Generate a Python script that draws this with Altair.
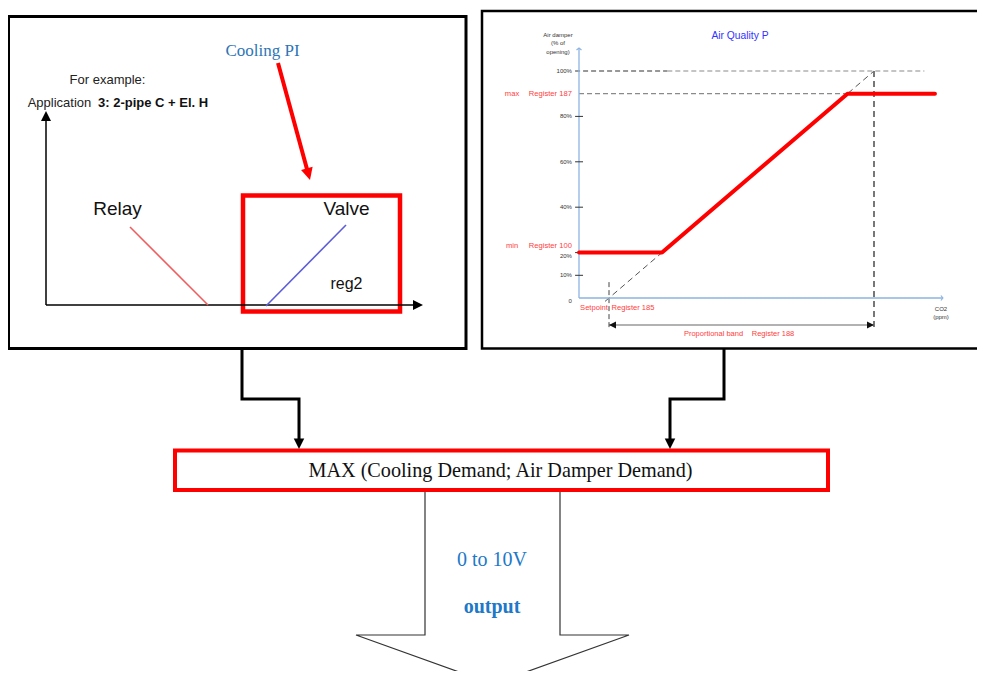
import altair as alt
import pandas as pd

# ------------------------------------------------------------------ data
# Right panel "Air Quality P": air damper opening (%) versus CO2, where CO2 is
# expressed in % of the proportional band (0 = setpoint, 100 = end of band).
damper_ticks = [0, 10, 20, 40, 60, 80, 100]
damper_tick_labels = ["0", "10%", "20%", "40%", "60%", "80%", "100%"]
tick_label_shift_px = [3, 0, 3.5, 0, 0, 0, 0]   # labels nudged down as in the original
tick_marks = [10, 20, 40, 60, 80]
min_pct = 20          # Register 100
max_pct = 90          # Register 187
setpoint = 0          # Register 185
band_end = 100        # setpoint + proportional band (Register 188)
curve_band = [-11.3, min_pct, max_pct, 123]
curve_damper = [min_pct, min_pct, max_pct, max_pct]

# ------------------------------------------------------------------ layout
W, H = 969, 663            # drawing area (page minus 8px margins)
OX, OY = 8, 8              # page offset of the drawing area
SET_X, BAND_PX = 609, 2.65  # page x of setpoint, px per % of band
ZERO_Y, PCT_PX = 298, 2.27  # page y of 0 % opening, px per % opening
AX_B = (579 - SET_X) / BAND_PX
B_DOM = [(OX - SET_X) / BAND_PX, (OX + W - SET_X) / BAND_PX]
P_DOM = [(ZERO_Y - (OY + H)) / PCT_PX, (ZERO_Y - OY) / PCT_PX]

SANS = "Liberation Sans"
SERIF = "Liberation Serif"
TRI = "M0,0L-0.5,-1L0.5,-1Z"   # arrow head, tip at origin, pointing down
CHEV = "M-1,0.8L0,0L1,0.8"


def dx(f="x"):
    return alt.X(f"{f}:Q", scale=alt.Scale(domain=[OX, OX + W], nice=False, zero=False), axis=None)


def dy(f="y"):
    return alt.Y(f"{f}:Q", scale=alt.Scale(domain=[OY, OY + H], reverse=True, nice=False, zero=False), axis=None)


def ix(f="b"):
    return alt.X(f"{f}:Q", scale=alt.Scale(domain=B_DOM, nice=False, zero=False), axis=None)


def iy(f="p"):
    return alt.Y(f"{f}:Q", scale=alt.Scale(domain=P_DOM, nice=False, zero=False), axis=None)


# ------------------------------------------------------------------ diagram layer (page pixels)
boxes = pd.DataFrame([
    dict(x=8.5, x2=466, y=16.5, y2=348.5, stroke="#000000", sw=3, fill="transparent"),
    dict(x=482, x2=1010, y=11, y2=348.5, stroke="#000000", sw=2.5, fill="transparent"),
    dict(x=243, x2=400, y=195.5, y2=311.5, stroke="#ff0000", sw=4.5, fill="transparent"),
    dict(x=175, x2=828, y=450.5, y2=490, stroke="#ff0000", sw=4, fill="#ffffff"),
])
box_layer = alt.Chart(boxes).mark_rect().encode(
    x=dx(), x2="x2:Q", y=dy(), y2="y2:Q",
    stroke=alt.Stroke("stroke:N", scale=None),
    strokeWidth=alt.StrokeWidth("sw:Q", scale=None),
    fill=alt.Fill("fill:N", scale=None),
)

paths = [
    ("lax_y", [(46, 305), (46, 120)], "#000000", 1.5),
    ("lax_x", [(46, 305), (414, 305)], "#000000", 1.5),
    ("relay", [(130, 227), (208, 305)], "#f25c5c", 1.6),
    ("valve", [(266, 306), (346, 225)], "#5d5dd8", 1.6),
    ("cool", [(278, 63), (307.5, 171)], "#ff0000", 4),
    ("conL", [(242, 349), (242, 399), (299, 399), (299, 441)], "#000000", 3),
    ("conR", [(724, 349), (724, 399), (670, 399), (670, 441)], "#000000", 3),
    ("big", [(425, 492), (425, 635), (356, 635), (492.5, 684), (629, 635), (560, 635), (560, 492)], "#333333", 1.2),
]
line_rows = []
for pid, pts, col, sw in paths:
    for i, (x, y) in enumerate(pts):
        line_rows.append(dict(id=pid, o=i, x=x, y=y, c=col, sw=sw))
line_layer = alt.Chart(pd.DataFrame(line_rows)).mark_line(strokeJoin="miter").encode(
    x=dx(), y=dy(), detail="id:N", order="o:Q",
    color=alt.Color("c:N", scale=None),
    strokeWidth=alt.StrokeWidth("sw:Q", scale=None),
)

heads = pd.DataFrame([
    dict(x=46, y=111, a=180, s=400, c="#000000"),
    dict(x=423, y=305, a=270, s=400, c="#000000"),
    dict(x=310, y=180, a=344.7, s=576, c="#ff0000"),
    dict(x=299, y=449, a=0, s=441, c="#000000"),
    dict(x=670, y=449, a=0, s=441, c="#000000"),
])
head_layer = alt.Chart(heads).mark_point(shape=TRI, filled=True, opacity=1, strokeWidth=0).encode(
    x=dx(), y=dy(),
    angle=alt.Angle("a:Q", scale=None),
    size=alt.Size("s:Q", scale=None),
    color=alt.Color("c:N", scale=None),
)

sans_texts = pd.DataFrame([
    dict(t="For example:", x=107.5, y=80, s=13, c="#222222"),
    dict(t="Application", x=59.5, y=103, s=13, c="#222222"),
    dict(t="Relay", x=117.5, y=209, s=19, c="#111111"),
    dict(t="Valve", x=346.5, y=209, s=19, c="#111111"),
    dict(t="reg2", x=346.5, y=284, s=16, c="#111111"),
    dict(t="Air Quality P", x=740, y=36, s=10.3, c="#3333ff"),
    dict(t="Air damper", x=558, y=35, s=6, c="#333333"),
    dict(t="(% of", x=558, y=43, s=6, c="#333333"),
    dict(t="opening)", x=558, y=52, s=6, c="#333333"),
    dict(t="Setpoint", x=594, y=308, s=7.6, c="#ff4040"),
    dict(t="Register 185", x=633, y=308, s=7.6, c="#ff4040"),
    dict(t="Proportional band", x=713.5, y=334, s=7.5, c="#ff4040"),
    dict(t="Register 188", x=773, y=334, s=7.5, c="#ff4040"),
    dict(t="CO2", x=941, y=309, s=6, c="#333333"),
    dict(t="(ppm)", x=941, y=317, s=6, c="#333333"),
])
bold_sans = pd.DataFrame([dict(t="3: 2-pipe C + El. H", x=98, y=103, s=13, c="#111111")])
serif_texts = pd.DataFrame([
    dict(t="Cooling PI", x=262.5, y=51, s=17, c="#2e75b6"),
    dict(t="MAX (Cooling Demand; Air Damper Demand)", x=500.5, y=471, s=20.2, c="#111111"),
    dict(t="0 to 10V", x=492, y=560, s=20, c="#2078c8"),
])
bold_serif = pd.DataFrame([dict(t="output", x=492, y=607, s=20, c="#2078c8")])


def text_layer(df, font, weight="normal", align="center"):
    return alt.Chart(df).mark_text(font=font, fontWeight=weight, align=align, baseline="middle").encode(
        x=dx(), y=dy(), text="t:N",
        size=alt.Size("s:Q", scale=None),
        color=alt.Color("c:N", scale=None),
    )


diagram = alt.layer(
    box_layer, line_layer, head_layer,
    text_layer(sans_texts, SANS),
    text_layer(bold_sans, SANS, "bold", "left"),
    text_layer(serif_texts, SERIF),
    text_layer(bold_serif, SERIF, "bold"),
)

# ------------------------------------------------------------------ Air Quality P layer (band %, damper %)
solid = pd.DataFrame(
    [dict(b=AX_B, b2=AX_B, p=0, p2=(ZERO_Y - 48) / PCT_PX, c="#8db3e2", sw=1.3),
     dict(b=AX_B, b2=126, p=0, p2=0, c="#8db3e2", sw=1.3),
     dict(b=setpoint, b2=band_end, p=-11.9, p2=-11.9, c="#666666", sw=1.2)]
    + [dict(b=-12.8, b2=-9.8, p=t, p2=t, c="#333333", sw=1) for t in tick_marks]
)
solid_layer = alt.Chart(solid).mark_rule().encode(
    x=ix(), x2="b2:Q", y=iy(), y2="p2:Q",
    color=alt.Color("c:N", scale=None), strokeWidth=alt.StrokeWidth("sw:Q", scale=None),
)

dashA = pd.DataFrame([
    dict(b=-12.8, b2=22, p=100, p2=100, c="#333333", sw=1.2),
    dict(b=22, b2=119, p=100, p2=100, c="#8a8a8a", sw=1.2),
    dict(b=AX_B, b2=max_pct, p=max_pct, p2=max_pct, c="#8a8a8a", sw=1.2),
    dict(b=setpoint, b2=setpoint, p=7, p2=-14.1, c="#444444", sw=1),
])
dashB = pd.DataFrame([
    dict(b=-1.5, b2=band_end, p=-1.5, p2=100, c="#555555", sw=1),
    dict(b=band_end, b2=band_end, p=100, p2=-13.7, c="#777777", sw=2),
])


def dash_layer(df, dash):
    return alt.Chart(df).mark_rule(strokeDash=dash).encode(
        x=ix(), x2="b2:Q", y=iy(), y2="p2:Q",
        color=alt.Color("c:N", scale=None), strokeWidth=alt.StrokeWidth("sw:Q", scale=None),
    )


curve = pd.DataFrame({"b": curve_band, "p": curve_damper, "o": list(range(len(curve_band)))})
curve_layer = alt.Chart(curve).mark_line(color="#ff0000", strokeWidth=4, strokeCap="round", strokeJoin="round").encode(
    x=ix(), y=iy(), order="o:Q"
)

chev = pd.DataFrame([
    dict(b=AX_B, p=(ZERO_Y - 48) / PCT_PX, a=0),
    dict(b=126, p=0, a=90),
])
chev_layer = alt.Chart(chev).mark_point(shape=CHEV, filled=False, size=25, strokeWidth=1.2, color="#8db3e2", opacity=1).encode(
    x=ix(), y=iy(), angle=alt.Angle("a:Q", scale=None)
)

band_heads = pd.DataFrame([dict(b=setpoint, p=-11.9, a=90), dict(b=band_end, p=-11.9, a=270)])
band_head_layer = alt.Chart(band_heads).mark_point(shape=TRI, filled=True, size=196, color="#111111", opacity=1, strokeWidth=0).encode(
    x=ix(), y=iy(), angle=alt.Angle("a:Q", scale=None)
)

tick_text = pd.DataFrame({
    "b": [-14.0] * len(damper_ticks),
    "p": [t - s / PCT_PX for t, s in zip(damper_ticks, tick_label_shift_px)],
    "t": damper_tick_labels,
})
tick_text_layer = alt.Chart(tick_text).mark_text(font=SANS, fontSize=6, color="#333333", align="right", baseline="middle").encode(
    x=ix(), y=iy(), text="t:N"
)

reg_labels = pd.DataFrame([
    dict(b=-14.0, p=max_pct, t="Register 187"),
    dict(b=-14.0, p=min_pct + 6.5 / PCT_PX, t="Register 100"),
])
reg_layer = alt.Chart(reg_labels).mark_text(font=SANS, fontSize=7.6, color="#ff4040", align="right", baseline="middle").encode(
    x=ix(), y=iy(), text="t:N"
)
mm_labels = pd.DataFrame([
    dict(b=(512 - SET_X) / BAND_PX, p=max_pct, t="max"),
    dict(b=(512 - SET_X) / BAND_PX, p=min_pct + 6.5 / PCT_PX, t="min"),
])
mm_layer = alt.Chart(mm_labels).mark_text(font=SANS, fontSize=7.6, color="#ff4040", align="center", baseline="middle").encode(
    x=ix(), y=iy(), text="t:N"
)

inner = alt.layer(
    dash_layer(dashB, [6, 4]), dash_layer(dashA, [5, 3]), solid_layer,
    curve_layer, chev_layer, band_head_layer,
    tick_text_layer, reg_layer, mm_layer,
)

chart = (
    alt.layer(diagram, inner)
    .resolve_scale(x="independent", y="independent")
    .properties(width=W, height=H, padding=0, autosize="none", background="white")
    .configure_view(stroke=None)
)

chart.save("out.html", embed_options={"renderer": "svg", "actions": False})
